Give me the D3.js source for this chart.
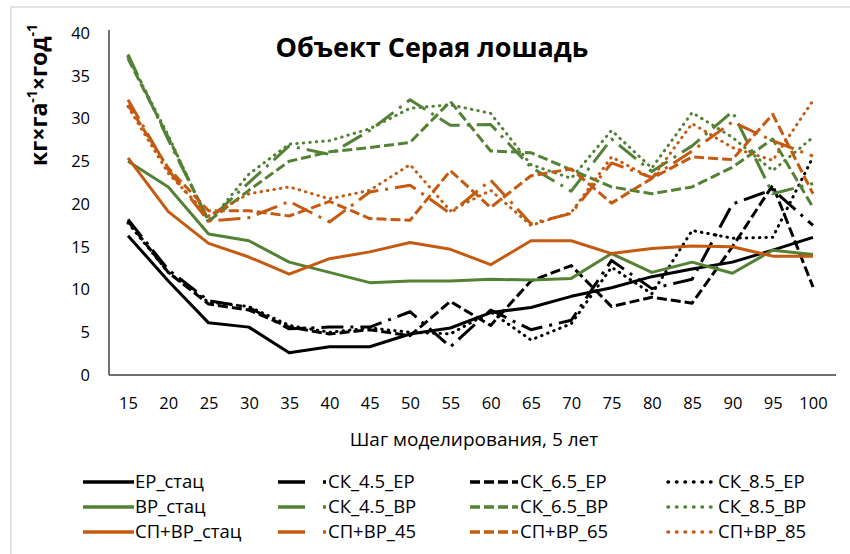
<!DOCTYPE html>
<html lang="ru">
<head>
<meta charset="utf-8">
<title>Объект Серая лошадь</title>
<script src="https://cdn.jsdelivr.net/npm/d3@7"></script>
<style>
  body { margin: 0; background: #fff; }
  text { fill: #000; }
</style>
</head>
<body>
<script>
// шаги моделирования
var steps = [15, 20, 25, 30, 35, 40, 45, 50, 55, 60, 65, 70, 75, 80, 85, 90, 95, 100];
var yTicks = [0, 5, 10, 15, 20, 25, 30, 35, 40];

// ЕР
var epStac  = [16.3, 11.0, 6.1, 5.6, 2.6, 3.3, 3.3, 4.8, 5.5, 7.3, 7.9, 9.2, 10.2, 11.5, 12.4, 13.2, 14.6, 16.1];
var sk45Ep  = [18.2, 12.3, 8.7, 7.9, 5.4, 5.6, 5.6, 7.4, 3.3, 7.6, 5.3, 6.4, 13.4, 10.1, 11.2, 20.0, 21.7, 17.5];
var sk65Ep  = [18.0, 12.0, 8.3, 7.6, 5.6, 4.8, 5.3, 4.6, 8.6, 5.8, 11.0, 12.8, 8.0, 9.1, 8.4, 15.0, 22.2, 10.3];
var sk85Ep  = [17.8, 12.0, 8.5, 8.0, 5.8, 5.0, 5.5, 5.0, 4.8, 7.4, 4.1, 6.0, 12.6, 9.5, 16.9, 16.0, 16.1, 25.5];
// ВР
var vrStac  = [25.0, 22.0, 16.5, 15.7, 13.2, 12.0, 10.8, 11.0, 11.0, 11.2, 11.1, 11.3, 14.2, 12.0, 13.2, 11.9, 14.6, 14.1];
var sk45Vr  = [37.5, 27.5, 18.1, 22.5, 26.8, 25.8, 28.6, 32.2, 29.2, 29.3, 24.3, 21.5, 27.6, 23.8, 26.8, 30.8, 21.2, 22.4];
var sk65Vr  = [37.0, 27.8, 18.0, 21.6, 25.0, 26.1, 26.6, 27.2, 32.0, 26.2, 26.0, 24.0, 22.0, 21.2, 22.0, 24.3, 27.6, 19.6];
var sk85Vr  = [37.2, 28.0, 17.8, 23.5, 27.0, 27.4, 28.8, 31.2, 31.6, 30.6, 24.6, 23.0, 28.6, 24.2, 30.7, 27.8, 23.9, 27.8];
// СП+ВР
var spStac  = [25.4, 19.1, 15.4, 13.8, 11.8, 13.6, 14.4, 15.5, 14.7, 12.9, 15.7, 15.7, 14.2, 14.8, 15.1, 15.0, 13.9, 13.9];
var sp45    = [32.2, 24.0, 18.0, 18.4, 20.3, 17.9, 21.4, 22.2, 18.9, 22.8, 17.7, 18.9, 24.8, 23.1, 26.2, 29.6, 27.4, 25.6];
var sp65    = [31.6, 24.2, 19.2, 19.2, 18.6, 20.3, 18.3, 18.1, 23.9, 19.6, 23.3, 24.1, 20.1, 23.0, 25.5, 25.2, 30.5, 21.2];
var sp85    = [31.4, 23.6, 18.6, 21.2, 22.0, 20.6, 21.6, 24.6, 19.2, 21.6, 17.5, 19.0, 25.5, 23.0, 29.4, 26.6, 25.1, 32.1];

var black = "#000000", green = "#548235", orange = "#c55a11";
// штрихи на графике и в легенде
var dashes = { solid: null, dashdot: "22,7,3,7", dash: "10,4", dot: "0.5,6" };
var legDashes = { solid: null, dashdot: "27,18,3,20", dash: "10,4", dot: "0.5,8" };

var series = [
    { name: "ЕР_стац",     values: epStac, color: black,  style: "solid" },
    { name: "СК_4.5_ЕР",   values: sk45Ep, color: black,  style: "dashdot" },
    { name: "СК_6.5_ЕР",   values: sk65Ep, color: black,  style: "dash" },
    { name: "СК_8.5_ЕР",   values: sk85Ep, color: black,  style: "dot" },
    { name: "ВР_стац",     values: vrStac, color: green,  style: "solid" },
    { name: "СК_4.5_ВР",   values: sk45Vr, color: green,  style: "dashdot" },
    { name: "СК_6.5_ВР",   values: sk65Vr, color: green,  style: "dash" },
    { name: "СК_8.5_ВР",   values: sk85Vr, color: green,  style: "dot" },
    { name: "СП+ВР_стац",  values: spStac, color: orange, style: "solid" },
    { name: "СП+ВР_45",    values: sp45,   color: orange, style: "dashdot" },
    { name: "СП+ВР_65",    values: sp65,   color: orange, style: "dash" },
    { name: "СП+ВР_85",    values: sp85,   color: orange, style: "dot" }
];

var w = 850, h = 554;
var svg = d3.select("body").append("svg")
    .attr("width", w)
    .attr("height", h);

// рамка области диаграммы
svg.append("rect")
    .attr("x", 11).attr("y", 7)
    .attr("width", w + 10).attr("height", h)
    .attr("fill", "#fff")
    .attr("stroke", "#d9d9d9")
    .attr("stroke-width", 1.5);

var xScale = d3.scalePoint().domain(steps).range([128, 813]);
var yScale = d3.scaleLinear().domain([0, 40]).range([375, 33]);

// оси
var yAxis = svg.append("g")
    .attr("transform", "translate(109,0)")
    .call(d3.axisLeft(yScale).tickValues(yTicks).tickSize(0).tickPadding(19));
var xAxis = svg.append("g")
    .attr("transform", "translate(0,375)")
    .call(d3.axisBottom(xScale).tickSize(0).tickPadding(22));
xAxis.select(".domain").attr("d", "M109,0H836");
yAxis.select(".domain").attr("d", "M0,30V375");
svg.selectAll(".domain").attr("stroke", "#404040").attr("stroke-width", 1.5);
svg.selectAll(".tick text")
    .attr("font-family", "Open Sans, sans-serif")
    .attr("font-size", "16.5px")
    .attr("fill", "#000");

// линии
var line = d3.line()
    .x(function (d, i) { return xScale(steps[i]); })
    .y(function (d) { return yScale(d); });

svg.append("g").selectAll("path")
    .data(series)
    .enter()
    .append("path")
    .attr("d", function (d) { return line(d.values); })
    .attr("fill", "none")
    .attr("stroke", function (d) { return d.color; })
    .attr("stroke-width", 3)
    .attr("stroke-linejoin", "round")
    .attr("stroke-linecap", function (d) { return d.style == "dot" ? "round" : "butt"; })
    .attr("stroke-dasharray", function (d) { return dashes[d.style]; });

// заголовок
svg.append("text")
    .attr("x", 432).attr("y", 57)
    .attr("text-anchor", "middle")
    .attr("font-family", "Open Sans, sans-serif")
    .attr("font-weight", "bold")
    .attr("font-size", "27px")
    .text("Объект Серая лошадь");

// подпись оси Y
var yTitle = svg.append("text")
    .attr("transform", "translate(47,95) rotate(-90)")
    .attr("text-anchor", "middle")
    .attr("font-family", "Open Sans, sans-serif")
    .attr("font-weight", "bold")
    .attr("font-size", "23px");
yTitle.append("tspan").text("кг×га");
yTitle.append("tspan").attr("font-size", "14px").attr("dy", -10).text("-1");
yTitle.append("tspan").attr("dy", 10).text("×год");
yTitle.append("tspan").attr("font-size", "14px").attr("dy", -10).text("-1");

// подпись оси X
svg.append("text")
    .attr("x", 474).attr("y", 446)
    .attr("text-anchor", "middle")
    .attr("font-family", "Open Sans, sans-serif")
    .attr("font-size", "19px")
    .text("Шаг моделирования, 5 лет");

// легенда
var legX = [83, 278, 470, 668];
var legY = [482, 507, 532];
var leg = svg.append("g").selectAll("g")
    .data(series)
    .enter()
    .append("g")
    .attr("transform", function (d, i) {
        return "translate(" + legX[i % 4] + "," + legY[Math.floor(i / 4)] + ")";
    });
leg.append("line")
    .attr("x1", 0).attr("x2", function (d) { return d.style == "solid" ? 51 : 48; })
    .attr("y1", 0).attr("y2", 0)
    .attr("stroke", function (d) { return d.color; })
    .attr("stroke-width", 3.5)
    .attr("stroke-linecap", function (d) { return d.style == "dot" ? "round" : "butt"; })
    .attr("stroke-dasharray", function (d) { return legDashes[d.style]; });
leg.append("text")
    .attr("x", function (d) { return d.style == "solid" ? 52 : 50; })
    .attr("y", 0)
    .attr("dy", "0.35em")
    .attr("font-family", "Open Sans, sans-serif")
    .attr("font-size", "18.5px")
    .text(function (d) { return d.name; });
</script>
</body>
</html>
